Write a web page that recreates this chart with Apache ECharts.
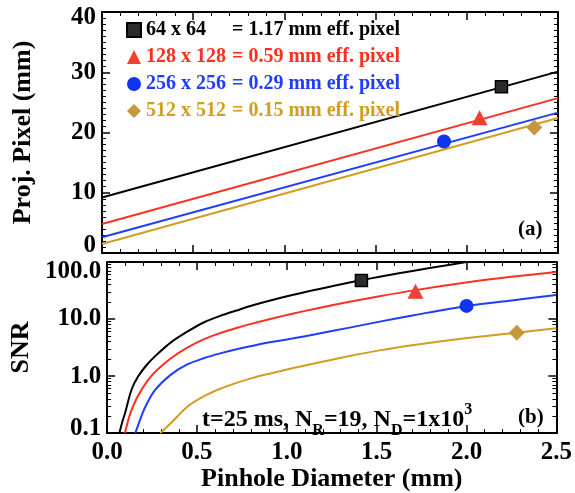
<!DOCTYPE html>
<html>
<head>
<meta charset="utf-8">
<script src="https://cdn.jsdelivr.net/npm/echarts@6/dist/echarts.min.js"></script>
<style>
html,body{margin:0;padding:0;background:#fff;}
#main{width:575px;height:493px;}
</style>
</head>
<body>
<div id="main"></div>
<script>
// ---- data ----
var names = ['64 x 64 = 1.17 mm eff. pixel', '128 x 128 = 0.59 mm eff. pixel',
             '256 x 256 = 0.29 mm eff. pixel', '512 x 512 = 0.15 mm eff. pixel'];
var colors = ['#000000', '#ff3020', '#1f3dff', '#d39c22'];
var markColors = ['#2b2b2b', '#f0402f', '#1034f2', '#c8963c'];
var symbols = ['rect', 'triangle', 'circle', 'diamond'];
var symSizes = [12, [16, 15], 14, 16];

// (a) projected pixel, straight lines
var projX = [0.0, 2.5];
var proj64 = [9.2, 30.1];
var proj128 = [4.8, 25.7];
var proj256 = [2.6, 23.3];
var proj512 = [1.5, 22.4];
var projMarkX = [2.19, 2.07, 1.875, 2.37];
var projMarkY = [27.6, 22.45, 18.5, 20.85];

// (b) SNR curves
var snrX64 = [0.068, 0.085, 0.099, 0.135, 0.172, 0.227, 0.281, 0.355, 0.446, 0.537, 0.629, 0.72, 0.811, 0.903, 1.03, 1.159, 1.342, 1.524, 1.707, 1.9, 2.1, 2.5];
var snr64  = [0.1, 0.16, 0.22, 0.57, 0.98, 1.66, 2.45, 3.9, 6.0, 8.7, 11.35, 14.1, 17.4, 20.9, 26.3, 32.5, 43.2, 55.6, 70.5, 88.7, 111, 166];
var snrX128 = [0.099, 0.12, 0.135, 0.172, 0.227, 0.281, 0.355, 0.446, 0.537, 0.629, 0.72, 0.811, 0.903, 1.031, 1.159, 1.342, 1.524, 1.707, 2.017, 2.25, 2.5];
var snr128  = [0.1, 0.18, 0.25, 0.45, 0.85, 1.3, 2.05, 3.15, 4.4, 5.66, 6.98, 8.4, 9.95, 12.4, 15.2, 19.9, 25.4, 31.8, 44.5, 55, 67];
var snrX256 = [0.157, 0.18, 0.208, 0.263, 0.355, 0.446, 0.537, 0.629, 0.72, 0.811, 0.903, 1.03, 1.159, 1.342, 1.524, 1.707, 2.0, 2.25, 2.5];
var snr256  = [0.1, 0.16, 0.27, 0.55, 1.06, 1.6, 2.05, 2.5, 2.95, 3.4, 3.9, 4.55, 5.4, 7.0, 9.1, 11.7, 17.0, 21.2, 26.3];
var snrX512 = [0.296, 0.355, 0.446, 0.537, 0.629, 0.72, 0.811, 0.903, 1.03, 1.159, 1.342, 1.524, 1.707, 2.017, 2.28, 2.5];
var snr512  = [0.1, 0.15, 0.29, 0.44, 0.6, 0.76, 0.93, 1.1, 1.37, 1.68, 2.22, 2.85, 3.52, 4.7, 5.75, 6.9];
var snrMarkX = [1.415, 1.716, 2.0, 2.28];
var snrMarkY = [47.5, 30.7, 17.0, 5.75];

var xTicks = [0.0, 2.5, 0.5];   // min, max, step
var projTicks = [0, 40, 10];
var snrTicks = [0.1, 100];

function pairs(xs, ys) {
  var out = [];
  for (var i = 0; i < xs.length; i++) out.push([xs[i], ys[i]]);
  return out;
}

var FONT = 'Liberation Serif';
var chart = echarts.init(document.getElementById('main'));

var tickStyle = {show: true, inside: true, length: 8, lineStyle: {color: '#000', width: 1.5}};
function minor(n) {
  return {show: true, splitNumber: n, length: 4, lineStyle: {color: '#000', width: 1}};
}
// end labels are pushed into the frame like in the original
function edgeRich(size, padTop, padBottom) {
  return {
    top: {fontFamily: FONT, fontWeight: 'bold', fontSize: size, color: '#000', padding: [padTop, 0, 0, 0]},
    bot: {fontFamily: FONT, fontWeight: 'bold', fontSize: size, color: '#000', padding: [0, 0, padBottom, 0]}
  };
}

function xAx(grid, pos, labels) {
  return {
    type: 'value', gridIndex: grid, position: pos,
    min: xTicks[0], max: xTicks[1], interval: xTicks[2],
    axisLine: {show: true, onZero: false, lineStyle: {color: '#000', width: 2}},
    axisTick: tickStyle,
    minorTick: minor(5),
    splitLine: {show: false},
    axisLabel: {show: labels, margin: 7, color: '#000', fontFamily: FONT, fontWeight: 'bold', fontSize: 25,
      formatter: function (v) { return v.toFixed(1); }}
  };
}

var xAxes = [xAx(0, 'bottom', false), xAx(0, 'top', false), xAx(1, 'bottom', true), xAx(1, 'top', false)];
xAxes[2].name = 'Pinhole Diameter (mm)';
xAxes[2].nameLocation = 'middle';
xAxes[2].nameGap = 30;
xAxes[2].nameTextStyle = {color: '#000', fontFamily: FONT, fontWeight: 'bold', fontSize: 26};

function yLin(pos, labels) {
  return {
    type: 'value', gridIndex: 0, position: pos,
    min: projTicks[0], max: projTicks[1], interval: projTicks[2],
    axisLine: {show: true, onZero: false, lineStyle: {color: '#000', width: 2}},
    axisTick: tickStyle,
    minorTick: minor(10),
    splitLine: {show: false},
    axisLabel: {show: labels, margin: 6, color: '#000', fontFamily: FONT, fontWeight: 'bold', fontSize: 25,
      rich: edgeRich(25, 12, 14),
      formatter: function (v) {
        if (v === projTicks[1]) return '{top|' + v + '}';
        if (v === projTicks[0]) return '{bot|' + v + '}';
        return String(v);
      }}
  };
}
function yLog(pos, labels) {
  return {
    type: 'log', gridIndex: 1, position: pos, logBase: 10,
    min: snrTicks[0], max: snrTicks[1],
    axisLine: {show: true, onZero: false, lineStyle: {color: '#000', width: 2}},
    axisTick: tickStyle,
    minorTick: minor(9),
    splitLine: {show: false},
    axisLabel: {show: labels, margin: 6, color: '#000', fontFamily: FONT, fontWeight: 'bold', fontSize: 25,
      rich: edgeRich(25, 20, 10),
      formatter: function (v) {
        var s = Number(v).toFixed(1);
        if (Math.abs(v - snrTicks[1]) < 1e-6) return '{top|' + s + '}';
        if (Math.abs(v - snrTicks[0]) < 1e-9) return '{bot|' + s + '}';
        return s;
      }}
  };
}
var yAxes = [yLin('left', true), yLin('right', false), yLog('left', true), yLog('right', false)];
yAxes[0].name = 'Proj. Pixel (mm)';
yAxes[2].name = 'SNR';
[0, 2].forEach(function (i) {
  yAxes[i].nameLocation = 'middle';
  yAxes[i].nameGap = 66;
  yAxes[i].nameTextStyle = {color: '#000', fontFamily: FONT, fontWeight: 'bold', fontSize: 26};
});

var projLines = [proj64, proj128, proj256, proj512];
var snrXs = [snrX64, snrX128, snrX256, snrX512];
var snrYs = [snr64, snr128, snr256, snr512];

var series = [];
for (var i = 0; i < 4; i++) {
  series.push({
    type: 'line', name: 'proj' + i, xAxisIndex: 0, yAxisIndex: 0,
    data: pairs(projX, projLines[i]), showSymbol: false, silent: true,
    lineStyle: {color: colors[i], width: 2}, z: 2
  });
  series.push({
    type: 'line', name: 'snr' + i, xAxisIndex: 2, yAxisIndex: 2,
    data: pairs(snrXs[i], snrYs[i]), showSymbol: false, smooth: 0.3, silent: true, clip: true,
    lineStyle: {color: colors[i], width: 2}, z: 2
  });
}
for (var j = 0; j < 4; j++) {
  var st = {color: markColors[j], borderColor: j === 0 ? '#000' : markColors[j], borderWidth: j === 0 ? 1.5 : 0, opacity: 1};
  series.push({
    type: 'scatter', name: names[j], xAxisIndex: 0, yAxisIndex: 0,
    data: [[projMarkX[j], projMarkY[j]]], symbol: symbols[j], symbolSize: symSizes[j],
    itemStyle: st, z: 5
  });
  series.push({
    type: 'scatter', name: names[j], xAxisIndex: 2, yAxisIndex: 2,
    data: [[snrMarkX[j], snrMarkY[j]]], symbol: symbols[j], symbolSize: symSizes[j],
    itemStyle: st, z: 5
  });
}

var rich = {};
for (var k = 0; k < 4; k++) {
  rich['a' + k] = {width: 86, color: colors[k], fontFamily: FONT, fontWeight: 'bold', fontSize: 20};
  rich['b' + k] = {color: colors[k], fontFamily: FONT, fontWeight: 'bold', fontSize: 20};
}

var txt = {fontFamily: FONT, fontWeight: 'bold', fill: '#000'};

option = {
  animation: false,
  backgroundColor: '#fff',
  grid: [
    {left: 102, right: 17, top: 12, height: 241, show: false},
    {left: 102, right: 17, top: 262, height: 173, show: false}
  ],
  xAxis: xAxes,
  yAxis: yAxes,
  legend: {
    orient: 'vertical', left: 121, top: 15, itemGap: 7,
    itemWidth: 14, itemHeight: 14,
    data: names.map(function (n, i) { return {name: n, textStyle: {color: colors[i]}}; }),
    textStyle: {fontFamily: FONT, fontWeight: 'bold', fontSize: 20, lineHeight: 20, rich: rich},
    formatter: function (name) {
      var i = names.indexOf(name);
      var p = name.split(' = ');
      return '{a' + i + '|' + p[0] + '}{b' + i + '|= ' + p[1] + '}';
    },
    selectedMode: false
  },
  graphic: [
    {type: 'text', left: 518, top: 219, style: Object.assign({text: '(a)', fontSize: 21}, txt)},
    {type: 'text', left: 518, top: 407, style: Object.assign({text: '(b)', fontSize: 21}, txt)},
    {type: 'text', left: 202, top: 402, style: Object.assign({
      text: '{n|t=25 ms, N}{s|R}{n|=19, N}{s|D}{n|=1x10}{p|3}',
      rich: {
        n: {fontFamily: FONT, fontWeight: 'bold', fontSize: 24, lineHeight: 28, verticalAlign: 'middle'},
        s: {fontFamily: FONT, fontWeight: 'bold', fontSize: 16, lineHeight: 28, verticalAlign: 'bottom', padding: [0, 0, -5, 0]},
        p: {fontFamily: FONT, fontWeight: 'bold', fontSize: 16, lineHeight: 28, verticalAlign: 'top', padding: [-4, 0, 0, 0]}
      }
    }, txt)}
  ],
  series: series
};
chart.setOption(option);
</script>
</body>
</html>
